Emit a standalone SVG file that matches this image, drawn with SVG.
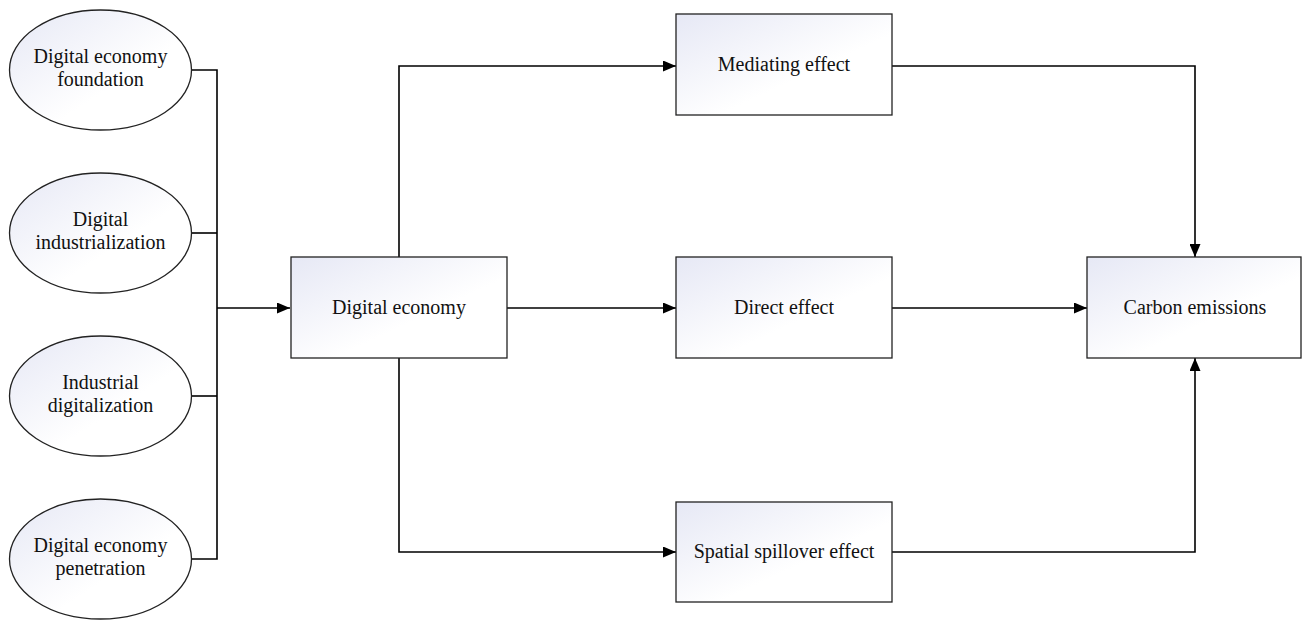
<svg xmlns="http://www.w3.org/2000/svg" width="1302" height="620" viewBox="0 0 1302 620">
<defs>
<linearGradient id="g" x1="0" y1="0" x2="1" y2="1">
<stop offset="0" stop-color="#e6e8f5"/>
<stop offset="0.6" stop-color="#ffffff"/>
</linearGradient>
<marker id="ah" viewBox="0 0 13 11" refX="13" refY="5.5" markerWidth="13" markerHeight="11" markerUnits="userSpaceOnUse" orient="auto">
<path d="M0,0 L13,5.5 L0,11 Z" fill="#000"/>
</marker>
</defs>
<style>
.n{fill:url(#g);stroke:#222;stroke-width:1.3}
text{font-family:'Liberation Serif','DejaVu Serif',serif;font-size:20px;fill:#111;text-anchor:middle}
.c{fill:none;stroke:#000;stroke-width:1.6}
</style>
<g id="connectors">
<path class="c" d="M191,70 H217 V559 H191"/>
<path class="c" d="M191,233 H217"/>
<path class="c" d="M191,396 H217"/>
<path class="c" d="M217,308 H290" stroke-width="2.4" marker-end="url(#ah)"/>
<path class="c" d="M399,257 V66 H676" marker-end="url(#ah)"/>
<path class="c" d="M507,308 H676" marker-end="url(#ah)"/>
<path class="c" d="M399,358 V552 H676" marker-end="url(#ah)"/>
<path class="c" d="M892,66 H1195 V257" marker-end="url(#ah)"/>
<path class="c" d="M892,308 H1087" marker-end="url(#ah)"/>
<path class="c" d="M892,552 H1195 V358" marker-end="url(#ah)"/>
</g>
<g id="n1"><ellipse class="n" cx="100.5" cy="70" rx="91" ry="60"/><text x="100.5" y="63">Digital economy</text><text x="100.5" y="86">foundation</text></g>
<g id="n2"><ellipse class="n" cx="100.5" cy="233" rx="91" ry="60"/><text x="100.5" y="226">Digital</text><text x="100.5" y="249">industrialization</text></g>
<g id="n3"><ellipse class="n" cx="100.5" cy="396" rx="91" ry="60"/><text x="100.5" y="389">Industrial</text><text x="100.5" y="412">digitalization</text></g>
<g id="n4"><ellipse class="n" cx="100.5" cy="559" rx="91" ry="60"/><text x="100.5" y="552">Digital economy</text><text x="100.5" y="575">penetration</text></g>
<g id="de"><rect class="n" x="291" y="257" width="216" height="101"/><text x="399" y="314">Digital economy</text></g>
<g id="me"><rect class="n" x="676" y="14" width="216" height="101"/><text x="784" y="71">Mediating effect</text></g>
<g id="dir"><rect class="n" x="676" y="257" width="216" height="101"/><text x="784" y="314">Direct effect</text></g>
<g id="sp"><rect class="n" x="676" y="502" width="216" height="100"/><text x="784" y="558">Spatial spillover effect</text></g>
<g id="ce"><rect class="n" x="1087" y="257" width="214" height="101"/><text x="1195" y="314">Carbon emissions</text></g>
</svg>
